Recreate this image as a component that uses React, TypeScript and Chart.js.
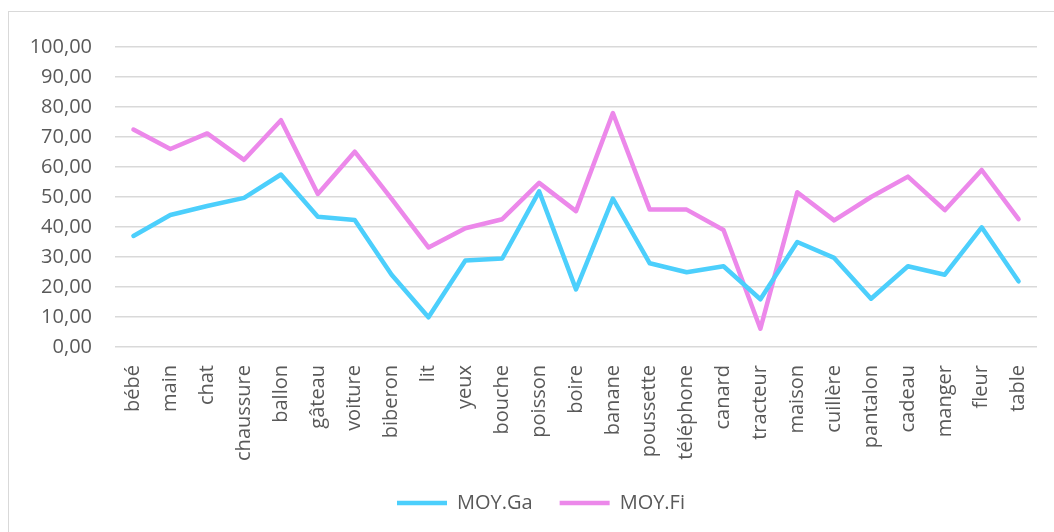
import React, { useEffect, useRef } from "react";
import { Chart, registerables } from "chart.js";

Chart.register(...registerables);

const categories: string[] = [
  "bébé", "main", "chat", "chaussure", "ballon", "gâteau", "voiture", "biberon", "lit", "yeux",
  "bouche", "poisson", "boire", "banane", "poussette", "téléphone", "canard", "tracteur", "maison",
  "cuillère", "pantalon", "cadeau", "manger", "fleur", "table",
];

const moyGa: number[] = [
  37.0, 44.0, 47.0, 49.7, 57.5, 43.4, 42.3, 24.1, 9.9, 28.8,
  29.5, 51.9, 19.2, 49.5, 27.9, 24.9, 26.9, 15.9, 35.0, 29.7,
  16.1, 26.9, 24.1, 39.9, 21.9,
];

const moyFi: number[] = [
  72.5, 66.0, 71.2, 62.4, 75.6, 51.0, 65.1, 49.4, 33.2, 39.6,
  42.6, 54.7, 45.3, 78.0, 45.8, 45.8, 39.0, 6.1, 51.6, 42.2,
  50.0, 56.8, 45.6, 59.0, 42.6,
];

const seriesNames: string[] = ["MOY.Ga", "MOY.Fi"];
const seriesColors: string[] = ["#4CCFFC", "#EC88EA"];
const yTicks: number[] = [0, 10, 20, 30, 40, 50, 60, 70, 80, 90, 100];

const legendShift = {
  id: "legendShift",
  afterLayout(chart: any) {
    const lg = chart.legend;
    if (lg) {
      lg.left = 36;
    }
  },
};

export default function App() {
  const canvasRef = useRef<HTMLCanvasElement | null>(null);

  useEffect(() => {
    document.documentElement.style.overflow = "hidden";
    const canvas = canvasRef.current;
    if (!canvas) return;
    const font = { family: "'Open Sans'", size: 20 };
    const chart = new Chart(canvas, {
      type: "line",
      data: {
        labels: categories,
        datasets: [
          {
            label: seriesNames[0],
            data: moyGa,
            borderColor: seriesColors[0],
            backgroundColor: seriesColors[0],
            borderWidth: 4.5,
            pointRadius: 0,
            tension: 0,
            borderJoinStyle: "round",
            borderCapStyle: "round",
          },
          {
            label: seriesNames[1],
            data: moyFi,
            borderColor: seriesColors[1],
            backgroundColor: seriesColors[1],
            borderWidth: 4.5,
            pointRadius: 0,
            tension: 0,
            borderJoinStyle: "round",
            borderCapStyle: "round",
          },
        ],
      },
      plugins: [legendShift],
      options: {
        responsive: false,
        animation: false,
        layout: { padding: { left: 0, right: 36, top: 29, bottom: 14 } },
        plugins: {
          tooltip: { enabled: false },
          legend: {
            position: "bottom",
            labels: {
              usePointStyle: true,
              pointStyle: "line",
              pointStyleWidth: 50,
              padding: 27,
              color: "#595959",
              font,
            },
          },
        },
        scales: {
          x: {
            offset: true,
            grid: { display: false, drawTicks: false },
            border: { display: false },
            ticks: {
              color: "#595959",
              font,
              minRotation: 90,
              maxRotation: 90,
              autoSkip: false,
              padding: 18,
            },
            afterFit: (scale: any) => {
              scale.height = 119;
            },
          },
          y: {
            min: 0,
            max: 100,
            afterBuildTicks: (scale: any) => {
              scale.ticks = yTicks.map((v) => ({ value: v }));
            },
            grid: { color: "#D9D9D9", lineWidth: 1.4, drawTicks: false },
            border: { display: false },
            ticks: {
              color: "#595959",
              font,
              padding: 23,
              callback: (v: any) => Number(v).toFixed(2).replace(".", ","),
            },
            afterFit: (scale: any) => {
              scale.width = 106;
            },
          },
        },
      },
    });
    return () => chart.destroy();
  }, []);

  return (
    <div
      style={{
        position: "fixed",
        left: 8,
        top: 11,
        width: 1064,
        height: 525,
        border: "1px solid #D9D9D9",
        background: "#fff",
      }}
    >
      <canvas ref={canvasRef} width={1064} height={525} style={{ display: "block" }} />
    </div>
  );
}
